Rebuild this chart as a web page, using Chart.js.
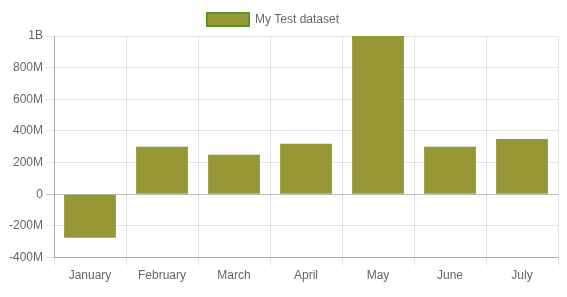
<!DOCTYPE html>
<html>
<head>
<meta charset="utf-8">
<script src="https://cdn.jsdelivr.net/npm/chart.js@4/dist/chart.umd.min.js"></script>
<style>
  html, body { margin: 0; padding: 0; background: #fff; }
  #wrap { width: 567px; height: 297px; position: relative; }
</style>
</head>
<body>
<div id="wrap"><canvas id="chart"></canvas></div>
<script>
// data
const months = ['January', 'February', 'March', 'April', 'May', 'June', 'July'];
const testValues = [-275000000, 300000000, 250000000, 320000000, 1000000000, 300000000, 350000000];
const yMin = -400000000;
const yMax = 1000000000;

function shortNumber(v) {
    if (v === 0) return '0';
    const a = Math.abs(v);
    if (a >= 1e9) return (v / 1e9) + 'B';
    if (a >= 1e6) return (v / 1e6) + 'M';
    if (a >= 1e3) return (v / 1e3) + 'K';
    return String(v);
}

// nudge the legend a bit left, like the original
const legendShift = {
    id: 'legendShift',
    afterLayout(chart) {
        if (chart.legend) {
            chart.legend.left -= 9;
            chart.legend.right -= 9;
        }
    }
};

Chart.defaults.font.family = '"Liberation Sans", Arial, sans-serif';
Chart.defaults.font.size = 12;
Chart.defaults.color = '#666';

const ctx = document.getElementById('chart').getContext('2d');
new Chart(ctx, {
    type: 'bar',
    data: {
        labels: months,
        datasets: [{
            label: 'My Test dataset',
            data: testValues,
            backgroundColor: '#979736',
            borderColor: '#4c9a2a',
            borderWidth: 0
        }]
    },
    options: {
        responsive: true,
        maintainAspectRatio: false,
        animation: false,
        layout: { padding: { right: 9, left: 6, top: 3, bottom: 11 } },
        plugins: {
            legend: {
                position: 'top',
                labels: {
                    boxWidth: 42,
                    boxHeight: 13,
                    color: '#666',
                    generateLabels(chart) {
                        const ds = chart.data.datasets[0];
                        return [{
                            text: ds.label,
                            fillStyle: ds.backgroundColor,
                            strokeStyle: ds.borderColor,
                            fontColor: '#666',
                            lineWidth: 2,
                            hidden: false,
                            datasetIndex: 0
                        }];
                    }
                }
            },
            tooltip: { enabled: false }
        },
        scales: {
            x: {
                grid: { color: 'rgba(0,0,0,0.1)', tickLength: 8 },
                border: { color: 'rgba(0,0,0,0.25)' },
                ticks: { color: '#666' }
            },
            y: {
                min: yMin,
                max: yMax,
                grid: {
                    color: c => (c.tick && c.tick.value === 0) ? 'rgba(0,0,0,0.25)' : 'rgba(0,0,0,0.1)',
                    tickLength: 8
                },
                border: { color: 'rgba(0,0,0,0.25)' },
                ticks: {
                    stepSize: 200000000,
                    color: '#666',
                    callback: v => shortNumber(v)
                }
            }
        }
    },
    plugins: [legendShift]
});
</script>
</body>
</html>
